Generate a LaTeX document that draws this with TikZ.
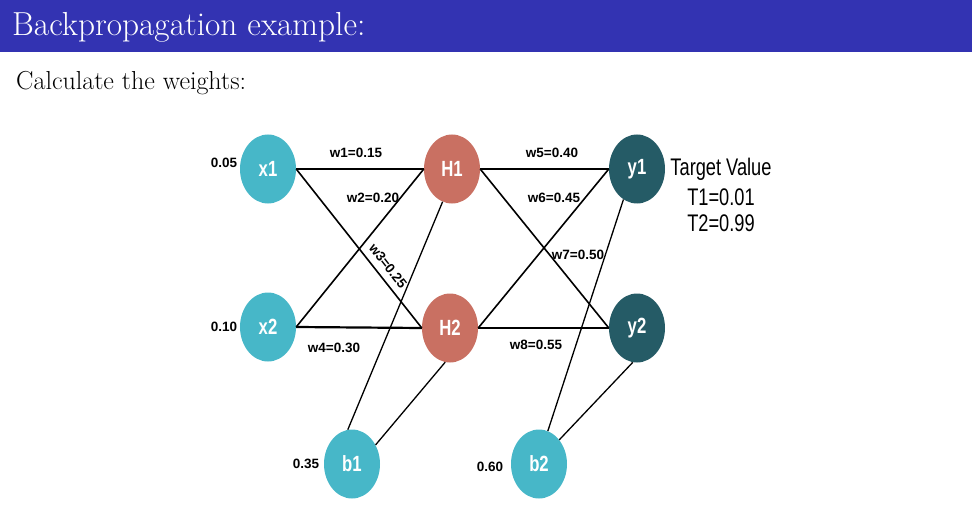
\documentclass[tikz,border=0pt]{standalone}
\usepackage{fontspec}
\newfontfamily\diagfont{Liberation Sans}
\usetikzlibrary{shapes.geometric}

\definecolor{barblue}{RGB}{51,51,178}
\definecolor{inputcol}{RGB}{71,183,200}
\definecolor{hiddencol}{RGB}{201,112,98}
\definecolor{outputcol}{RGB}{37,91,102}

% horizontally narrowed text, as in the network figure
\newcommand{\narrowtext}[1]{\scalebox{0.76}[1]{#1}}

\tikzset{
  neuron/.style={ellipse, minimum width=56pt, minimum height=69pt, inner sep=0pt,
                 text=white, font=\diagfont\bfseries\fontsize{22}{25}\selectfont},
  inputnode/.style={neuron, fill=inputcol},
  hiddennode/.style={neuron, fill=hiddencol},
  outputnode/.style={neuron, fill=outputcol},
  wire/.style={draw=black, line width=1.6pt},
  wireh/.style={draw=black, line width=2.2pt},
  biaswire/.style={draw=black, line width=1.3pt},
  weightlabel/.style={inner sep=0pt, font=\diagfont\bfseries\fontsize{13.5}{16}\selectfont},
  valuelabel/.style={inner sep=0pt, font=\diagfont\bfseries\fontsize{13.5}{16}\selectfont},
  targetlabel/.style={inner sep=0pt, font=\diagfont\fontsize{24}{28}\selectfont},
}

\begin{document}
\begin{tikzpicture}[x=1pt,y=-1pt]
\useasboundingbox (0,0) rectangle (972,524);

% title bar and heading
\fill[barblue] (0,0) rectangle (972,52);
\node[anchor=base west, inner sep=0pt, text=white, font=\fontsize{33.3}{40}\selectfont] (title) at (12,36) {Backpropagation example:};
\node[anchor=base west, inner sep=0pt, font=\fontsize{26}{31}\selectfont] (intro) at (16,90) {Calculate the weights:};

% neurons
\node[inputnode]  (x1) at (268,169) {\narrowtext{x1}};
\node[inputnode]  (x2) at (268,327) {\narrowtext{x2}};
\node[hiddennode] (h1) at (452,169) {\narrowtext{H1}};
\node[hiddennode] (h2) at (450,328) {\narrowtext{H2}};
\node[outputnode] (y1) at (637,169) {\narrowtext{y1}};
\node[outputnode] (y2) at (637,328) {\narrowtext{y2}};
\node[inputnode]  (b1) at (352,464) {\narrowtext{b1}};
\node[inputnode]  (b2) at (539,464) {\narrowtext{b2}};

% input to hidden connections
\draw[wireh] (x1.east) -- (h1.west);
\draw[wire]  (x1.east) -- (h2.west);
\draw[wire]  (x2.east) -- (h1.west);
\draw[wireh] (x2.east) -- (h2.west);

% hidden to output connections
\draw[wireh] (h1.east) -- (y1.west);
\draw[wire]  (h1.east) -- (y2.west);
\draw[wire]  (h2.east) -- (y1.west);
\draw[wireh] (h2.east) -- (y2.west);

% bias connections
\draw[biaswire] (b1.97) -- (h1.-106);
\draw[biaswire] (b1.39) -- (h2.-98);
\draw[biaswire] (b2.75) -- (y1.-114);
\draw[biaswire] (b2.50) -- (y2.-97);

% weights
\node[weightlabel] (w1) at (356,153) {w1=0.15};
\node[weightlabel] (w2) at (373,198) {w2=0.20};
\node[weightlabel, rotate=-52] (w3) at (388,266) {w3=0.25};
\node[weightlabel] (w4) at (334,348) {w4=0.30};
\node[weightlabel] (w5) at (552,153) {w5=0.40};
\node[weightlabel] (w6) at (554,198) {w6=0.45};
\node[weightlabel] (w7) at (578,255) {w7=0.50};
\node[weightlabel] (w8) at (536,345) {w8=0.55};

% input and bias values
\node[valuelabel] (v1) at (224,163) {0.05};
\node[valuelabel] (v2) at (224,327) {0.10};
\node[valuelabel] (v3) at (306,464) {0.35};
\node[valuelabel] (v4) at (490,467) {0.60};

% target values
\node[targetlabel] (tv) at (721,169) {\narrowtext{Target Value}};
\node[targetlabel] (t1) at (721,197) {\narrowtext{T1=0.01}};
\node[targetlabel] (t2) at (721,223) {\narrowtext{T2=0.99}};
\end{tikzpicture}
\end{document}
